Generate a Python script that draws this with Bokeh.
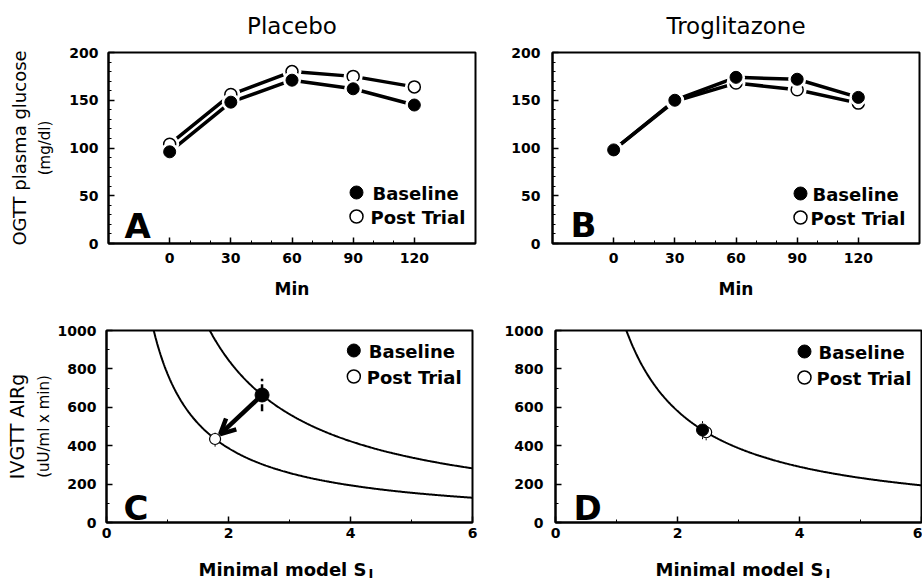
import numpy as np
from bokeh.plotting import figure
from bokeh.models import Label, FixedTicker, Arrow, OpenHead, Range1d, Title
from bokeh.core.properties import value
from bokeh.layouts import column, row
from bokeh.embed import file_html
from bokeh.resources import INLINE

# ---------------- data ----------------
ogtt_min = [0, 30, 60, 90, 120]
placebo_baseline = [96, 148, 171, 162, 145]
placebo_post = [104, 156, 180, 175, 164]
trog_baseline = [98, 150, 174, 172, 153]
trog_post = [98, 149, 168, 161, 147]

placebo_si = [2.55, 1.78]          # baseline, post trial
placebo_air = [664, 435]
placebo_air_err = [85, 40]
trog_si = [2.41, 2.47]
trog_air = [482, 470]
trog_air_err = [48, 42]

ogtt_ticks = [0, 30, 60, 90, 120]
ogtt_minor = [10, 20, 40, 50, 70, 80, 100, 110]
glu_ticks = [0, 50, 100, 150, 200]
glu_minor = [10, 20, 30, 40, 60, 70, 80, 90, 110, 120, 130, 140, 160, 170, 180, 190]
si_ticks = [0, 2, 4, 6]
si_minor = [1, 3, 5]
air_ticks = [0, 200, 400, 600, 800, 1000]
air_minor = [100, 300, 500, 700, 900]

FONT = "DejaVu Sans"

# ---------------- layout (page pixels) ----------------
PANELS = {
    "A": dict(frame=(108, 52, 475, 243), xr=(-30, 150), yr=(0, 200), size=(488, 306), origin=(0, 0)),
    "B": dict(frame=(552, 52, 919, 243), xr=(-30, 150), yr=(0, 200), size=(434, 306), origin=(488, 0)),
    "C": dict(frame=(105, 330, 472, 522), xr=(0, 6), yr=(0, 1000), size=(488, 250), origin=(0, 306)),
    "D": dict(frame=(555, 330, 921, 522), xr=(0, 6), yr=(0, 1000), size=(434, 250), origin=(488, 306)),
}
STRIP_H = 25   # page y 556..581 holds the bottom axis titles


def to_data(key, px, py):
    c = PANELS[key]
    l, t, r, b = c["frame"]
    x0, x1 = c["xr"]
    y0, y1 = c["yr"]
    x = x0 + (px - l) / (r - l) * (x1 - x0)
    y = y0 + (b - py) / (b - t) * (y1 - y0)
    return x, y


def make_fig(key, xt, xm, yt, ym, xstand, ystand):
    c = PANELS[key]
    l, t, r, b = c["frame"]
    w, h = c["size"]
    ox, oy = c["origin"]
    p = figure(width=w, height=h, x_range=Range1d(*c["xr"]), y_range=Range1d(*c["yr"]),
               toolbar_location=None, output_backend="svg",
               min_border_left=l - ox, min_border_right=ox + w - r,
               min_border_top=t - oy, min_border_bottom=oy + h - b)
    p.grid.visible = False
    p.outline_line_color = "black"
    p.outline_line_width = 2
    p.background_fill_color = "white"
    p.border_fill_color = "white"
    p.xaxis.ticker = FixedTicker(ticks=xt, minor_ticks=xm)
    p.yaxis.ticker = FixedTicker(ticks=yt, minor_ticks=ym)
    p.xaxis.major_label_standoff = xstand
    p.yaxis.major_label_standoff = ystand
    for ax in (p.xaxis[0], p.yaxis[0]):
        ax.axis_line_color = "black"
        ax.axis_line_width = 2
        ax.major_tick_in = 6
        ax.major_tick_out = 0
        ax.minor_tick_in = 3
        ax.minor_tick_out = 0
        ax.major_tick_line_color = "black"
        ax.minor_tick_line_color = "black"
        ax.major_tick_line_width = 1.5
        ax.minor_tick_line_width = 1
        ax.major_label_text_font = FONT
        ax.major_label_text_font_style = "bold"
        ax.major_label_text_font_size = "14px"
        ax.major_label_text_color = "black"
        ax.axis_label_text_font = FONT
        ax.axis_label_text_color = "black"
    return p


def title(p, text, loc, size, bold=False, align="center", offset=0, standoff=10, valign="bottom"):
    p.add_layout(Title(text=text, align=align, offset=offset, standoff=standoff,
                       vertical_align=valign, text_font=FONT, text_font_size=f"{size}px",
                       text_font_style="bold" if bold else "normal", text_color="black"), loc)


def lab(p, key, text, px, py, size, bold=False, align="left", baseline="alphabetic"):
    x, y = to_data(key, px, py)
    p.add_layout(Label(x=x, y=y, text=text, text_font=FONT, text_font_size=f"{size}px",
                       text_font_style="bold" if bold else "normal", text_align=align,
                       text_baseline=baseline, text_color="black"))


def legend(p, key, cx, cy_base, cy_post, tx):
    bx, by = to_data(key, cx, cy_base)
    qx, qy = to_data(key, cx, cy_post)
    p.scatter([bx], [by], size=13, fill_color="black", line_color="black")
    p.scatter([qx], [qy], size=13, fill_color="white", line_color="black", line_width=1.5)
    lab(p, key, "Baseline", tx, cy_base + 1, 18, bold=True, baseline="middle")
    lab(p, key, "Post Trial", tx - 2, cy_post + 1, 18, bold=True, baseline="middle")


def ogtt_panel(key, base, post, ttl, ystand):
    p = make_fig(key, ogtt_ticks, ogtt_minor, glu_ticks, glu_minor, 9, ystand)
    p.line(ogtt_min, base, line_width=3.5, line_color="black")
    p.line(ogtt_min, post, line_width=3.5, line_color="black")
    p.scatter(ogtt_min, post, size=19, fill_color="white", line_color=None)
    p.scatter(ogtt_min, post, size=12, fill_color="white", line_color="black", line_width=1.5)
    p.scatter(ogtt_min, base, size=18, fill_color="white", line_color=None)
    p.scatter(ogtt_min, base, size=12, fill_color="black", line_color="black")
    title(p, ttl, "above", 23, standoff=23, valign="top")
    p.xaxis.axis_label = "Min"
    p.xaxis.axis_label_text_font_size = "17px"
    p.xaxis.axis_label_text_font_style = "bold"
    p.xaxis.axis_label_standoff = 13
    return p


pA = ogtt_panel("A", placebo_baseline, placebo_post, "Placebo", 10)
lab(pA, "A", "A", 124, 225, 34, bold=True)
legend(pA, "A", 356, 192, 216, 372)
pA.yaxis.axis_label = "(mg/dl)"
pA.yaxis.axis_label_text_font_size = "15px"
pA.yaxis.axis_label_text_font_style = "normal"
pA.yaxis.axis_label_standoff = 12
title(pA, "OGTT plasma glucose", "left", 18, standoff=7, offset=3)

pB = ogtt_panel("B", trog_baseline, trog_post, "Troglitazone", 12)
lab(pB, "B", "B", 570, 224, 34, bold=True)
legend(pB, "B", 800, 193, 217, 812)


def ivgtt_panel(key, si, air, curves_from, ystand):
    p = make_fig(key, si_ticks, si_minor, air_ticks, air_minor, 5, ystand)
    for i in curves_from:
        di = si[i] * air[i]
        xs = np.linspace(di / 1100.0, 6.3, 400)
        p.line(xs, di / xs, line_width=2, line_color="black")
    return p


pC = ivgtt_panel("C", placebo_si, placebo_air, [0, 1], 10)
pC.segment(x0=[placebo_si[0]], y0=[placebo_air[0] - placebo_air_err[0]], x1=[placebo_si[0]],
           y1=[placebo_air[0] + placebo_air_err[0]], line_width=2.5, line_color="black", line_dash="7 3")
pC.segment(x0=[placebo_si[1]], y0=[placebo_air[1] - placebo_air_err[1]], x1=[placebo_si[1]],
           y1=[placebo_air[1] + placebo_air_err[1]], line_width=1, line_color="black", line_dash="2 2")
t0, t1 = 0.10, 0.89
ax0 = placebo_si[0] + t0 * (placebo_si[1] - placebo_si[0])
ay0 = placebo_air[0] + t0 * (placebo_air[1] - placebo_air[0])
ax1 = placebo_si[0] + t1 * (placebo_si[1] - placebo_si[0])
ay1 = placebo_air[0] + t1 * (placebo_air[1] - placebo_air[0])
pC.add_layout(Arrow(end=OpenHead(size=15, line_width=4.5, line_color="black"),
                    x_start=ax0, y_start=ay0, x_end=ax1, y_end=ay1,
                    line_width=4.5, line_color="black"))
pC.scatter([placebo_si[1]], [placebo_air[1]], size=11, fill_color="white", line_color="black", line_width=1.2)
pC.scatter([placebo_si[0]], [placebo_air[0]], size=14, fill_color="black", line_color="black")
lab(pC, "C", "C", 122, 507, 34, bold=True)
legend(pC, "C", 353, 350, 376, 368)
pC.yaxis.axis_label = "(uU/ml x min)"
pC.yaxis.axis_label_text_font_size = "15px"
pC.yaxis.axis_label_text_font_style = "normal"
pC.yaxis.axis_label_standoff = 2
title(pC, "IVGTT AIRg", "left", 19, standoff=7, offset=8)

pD = ivgtt_panel("D", trog_si, trog_air, [0], 12)
for i in (1, 0):
    pD.segment(x0=[trog_si[i]], y0=[trog_air[i] - trog_air_err[i]], x1=[trog_si[i]],
               y1=[trog_air[i] + trog_air_err[i]], line_width=1, line_color="black", line_dash="2 2")
pD.scatter([trog_si[1]], [trog_air[1]], size=11, fill_color="white", line_color="black", line_width=1.2)
pD.scatter([trog_si[0]], [trog_air[0]], size=12, fill_color="black", line_color="black")
lab(pD, "D", "D", 573, 507, 34, bold=True)
legend(pD, "D", 804, 351, 377, 818)


# ---- strips below C and D holding the x-axis title "Minimal model S" with subscript "I" ----
def xtitle_strip(width, s_end):
    s = figure(width=width, height=STRIP_H, title=None, x_range=Range1d(0, width),
               y_range=Range1d(STRIP_H, 0), toolbar_location=None, output_backend="svg",
               x_axis_type=None, y_axis_type=None,
               min_border=0, min_border_left=0, min_border_right=0, min_border_top=0, min_border_bottom=0)
    s.outline_line_color = None
    s.grid.visible = False
    s.background_fill_color = "white"
    s.border_fill_color = "white"
    s.text(x=[s_end], y=[13], text=["Minimal model S"], text_align=value("right"),
           text_baseline=value("alphabetic"), text_font=value(FONT), text_font_size=value("18px"),
           text_font_style=value("bold"), text_color=value("black"))
    s.text(x=[s_end + 2], y=[17], text=["I"], text_align=value("left"),
           text_baseline=value("alphabetic"), text_font=value(FONT), text_font_size=value("13px"),
           text_font_style=value("bold"), text_color=value("black"))
    return s


sC = xtitle_strip(488, 366)
sD = xtitle_strip(434, 823 - 488)

layout = column(row(pA, pB), row(pC, pD), row(sC, sD))
open("out.html", "w").write(file_html(layout, INLINE))
